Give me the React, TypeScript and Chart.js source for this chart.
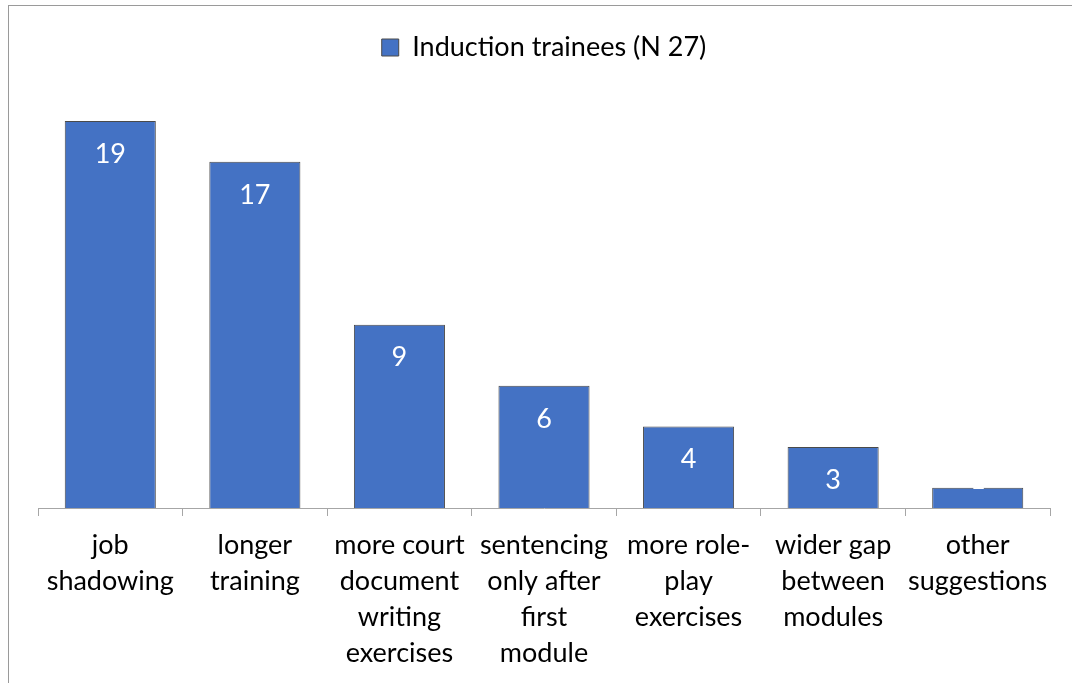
import React, { useEffect, useRef } from "react";
import { Chart, registerables } from "chart.js";

Chart.register(...registerables);

const categories: string[][] = [
  ["job", "shadowing"],
  ["longer", "training"],
  ["more court", "document", "writing", "exercises"],
  ["sentencing", "only after", "first", "module"],
  ["more role-", "play", "exercises"],
  ["wider gap", "between", "modules"],
  ["other", "suggestions"],
];
const seriesName = "Induction trainees (N 27)";
const values: number[] = [19, 17, 9, 6, 4, 3, 1];
const yMax = 21.46;

const FONT = "Lato, 'Noto Sans', sans-serif";
const FS = 27;

const dataLabelPlugin = {
  id: "dataLabels",
  afterDatasetsDraw(chart: any) {
    const ctx = chart.ctx;
    const meta = chart.getDatasetMeta(0);
    ctx.save();
    ctx.font = `${FS}px ${FONT}`;
    ctx.fillStyle = "#ffffff";
    ctx.textAlign = "center";
    meta.data.forEach((bar: any, i: number) => {
      const { x, y, base } = bar.getProps(["x", "y", "base"], true);
      const v = values[i];
      if (base - y > 45) {
        ctx.textBaseline = "middle";
        ctx.fillText(String(v), x, y + 33);
      } else {
        ctx.textBaseline = "alphabetic";
        ctx.fillText(String(v), x, y + 1.5);
      }
    });
    ctx.restore();
  },
};

export default function App() {
  const canvasRef = useRef<HTMLCanvasElement | null>(null);

  useEffect(() => {
    if (!canvasRef.current) return;
    const chart = new Chart(canvasRef.current, {
      type: "bar",
      data: {
        labels: categories,
        datasets: [
          {
            label: seriesName,
            data: values,
            backgroundColor: "#4472C4",
            borderColor: "#4a4a4a",
            borderWidth: 1,
            barPercentage: 0.63,
            categoryPercentage: 1,
          },
        ],
      },
      options: {
        responsive: false,
        animation: false,
        devicePixelRatio: 1,
        layout: { padding: { left: 38, right: 22, top: 18, bottom: 11 } },
        plugins: {
          legend: {
            display: true,
            position: "top",
            labels: {
              boxWidth: 17,
              boxHeight: 17,
              padding: 16,
              color: "#000",
              font: { family: FONT, size: FS },
            },
          },
          tooltip: { enabled: false },
        },
        scales: {
          x: {
            grid: {
              display: true,
              drawOnChartArea: false,
              drawTicks: true,
              tickLength: 8,
              color: "#a6a6a6",
              offset: true,
            },
            border: { display: true, color: "#a6a6a6", width: 1 },
            ticks: {
              color: "#000",
              padding: 11,
              maxRotation: 0,
              autoSkip: false,
              font: { family: FONT, size: FS, lineHeight: 36 / FS },
            },
          },
          y: {
            display: false,
            min: 0,
            max: yMax,
          },
        },
      },
      plugins: [dataLabelPlugin],
    });
    return () => chart.destroy();
  }, []);

  return (
    <div style={{ position: "fixed", left: 0, top: 0, width: 1072, height: 683, background: "#fff", overflow: "hidden" }}>
      <div
        style={{
          position: "absolute",
          left: 8,
          top: 5,
          width: 1200,
          height: 800,
          borderLeft: "1px solid #9a9a9a",
          borderTop: "1px solid #9a9a9a",
          boxSizing: "border-box",
        }}
      />
      <canvas
        ref={canvasRef}
        width={1072}
        height={693}
        style={{ position: "absolute", left: 0, top: 0, width: 1072, height: 693 }}
      />
    </div>
  );
}
